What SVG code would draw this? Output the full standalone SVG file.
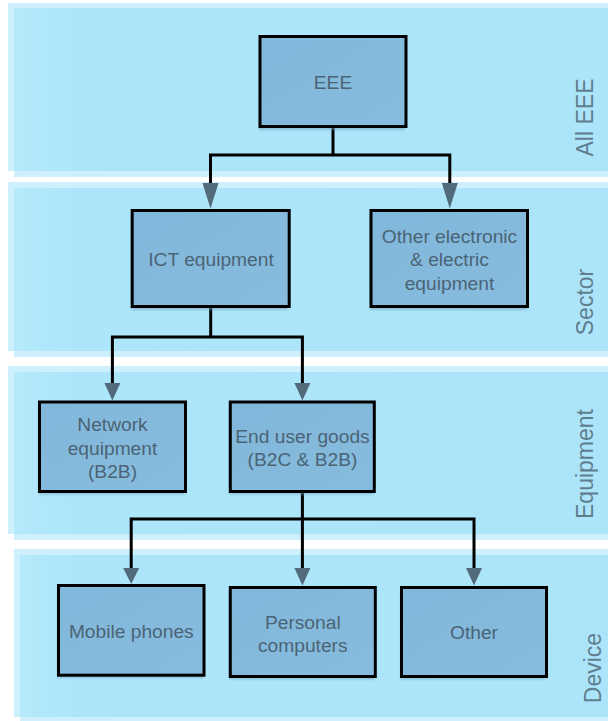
<svg xmlns="http://www.w3.org/2000/svg" width="608" height="721" viewBox="0 0 608 721">
  <defs>
    <linearGradient id="bandFill" x1="0" y1="0" x2="1" y2="0">
      <stop offset="0" stop-color="#b6e9fb"/>
      <stop offset="0.08" stop-color="#ade6fa"/>
      <stop offset="1" stop-color="#ace5fa"/>
    </linearGradient>
    <linearGradient id="boxFill" x1="0" y1="0" x2="1" y2="1">
      <stop offset="0" stop-color="#81b7da"/>
      <stop offset="1" stop-color="#87bcde"/>
    </linearGradient>
    <filter id="soft" x="-10%" y="-10%" width="120%" height="130%">
      <feGaussianBlur stdDeviation="1.2"/>
    </filter>
    <style>
      .glow { fill: #cdf0fc; }
      .band { fill: url(#bandFill); }
      .box { fill: url(#boxFill); stroke: #000; stroke-width: 3; }
      .shadow { fill: #6f9fbd; opacity: 0.55; filter: url(#soft); }
      .txt { font-family: "Liberation Sans", Arial, sans-serif; font-size: 19.2px; fill: #4b6475; text-anchor: middle; }
      .lbl { font-family: "Liberation Sans", Arial, sans-serif; font-size: 23px; fill: #5f7e8f; text-anchor: middle; }
      .wire { fill: none; stroke: #000; stroke-width: 3; stroke-linejoin: miter; stroke-linecap: butt; }
      .head { fill: #516b7b; }
    </style>
  </defs>

  <rect width="608" height="721" fill="#ffffff"/>

  <!-- level bands -->
  <g id="band-all-eee">
    <rect class="glow" x="8" y="3" width="600" height="168"/>
    <rect class="glow" x="14" y="8" width="594" height="169"/>
    <rect class="band" x="14" y="8" width="594" height="163"/>
    <text class="lbl" transform="translate(592.5,117.5) rotate(-90)">All EEE</text>
  </g>
  <g id="band-sector">
    <rect class="glow" x="8" y="182" width="600" height="169"/>
    <rect class="glow" x="14" y="188" width="594" height="169"/>
    <rect class="band" x="14" y="188" width="594" height="163"/>
    <text class="lbl" transform="translate(593,302) rotate(-90)">Sector</text>
  </g>
  <g id="band-equipment">
    <rect class="glow" x="8" y="366" width="600" height="168"/>
    <rect class="glow" x="14" y="372" width="594" height="168"/>
    <rect class="band" x="14" y="372" width="594" height="162"/>
    <text class="lbl" transform="translate(593,464) rotate(-90)">Equipment</text>
  </g>
  <g id="band-device">
    <rect class="glow" x="14" y="549" width="594" height="168"/>
    <rect class="glow" x="20" y="555" width="588" height="166"/>
    <rect class="band" x="20" y="555" width="588" height="162"/>
    <text class="lbl" transform="translate(601,668) rotate(-90)">Device</text>
  </g>

  <!-- connectors -->
  <g id="connectors">
    <path class="wire" d="M333,127 V155 M210.5,184 V155 H449.8 V184"/>
    <polygon class="head" points="202.5,183 218.5,183 210.5,208.5"/>
    <polygon class="head" points="441.8,183 457.8,183 449.8,208.5"/>

    <path class="wire" d="M210.7,307 V337 M112.4,384 V337 H302.4 V384"/>
    <polygon class="head" points="104.4,383 120.4,383 112.4,400.5"/>
    <polygon class="head" points="294.4,383 310.4,383 302.4,400.5"/>

    <path class="wire" d="M302.4,492 V569 M131.2,569 V519 H474 V569"/>
    <polygon class="head" points="123.2,568 139.2,568 131.2,584"/>
    <polygon class="head" points="294.4,568 310.4,568 302.4,585.5"/>
    <polygon class="head" points="466,568 482,568 474,585.5"/>
  </g>

  <!-- nodes -->
  <g id="node-eee">
    <rect class="shadow" x="259" y="39" width="146" height="91"/>
    <rect class="box" x="260" y="36.5" width="146" height="90"/>
    <text class="txt" x="333" y="88.5">EEE</text>
  </g>
  <g id="node-ict">
    <rect class="shadow" x="131" y="213" width="157" height="97"/>
    <rect class="box" x="132.2" y="210.5" width="157" height="96"/>
    <text class="txt" x="211" y="266">ICT equipment</text>
  </g>
  <g id="node-other-eee">
    <rect class="shadow" x="370" y="213" width="156.5" height="97"/>
    <rect class="box" x="371" y="210.5" width="156.5" height="96"/>
    <text class="txt" x="449.5" y="242.5">Other electronic</text>
    <text class="txt" x="449.5" y="266">&amp; electric</text>
    <text class="txt" x="449.5" y="289.5">equipment</text>
  </g>
  <g id="node-network">
    <rect class="shadow" x="38.5" y="404.5" width="146" height="90"/>
    <rect class="box" x="39.5" y="402" width="146" height="89.5"/>
    <text class="txt" x="112.5" y="431">Network</text>
    <text class="txt" x="112.5" y="454.5">equipment</text>
    <text class="txt" x="112.5" y="478">(B2B)</text>
  </g>
  <g id="node-end-user">
    <rect class="shadow" x="229.3" y="404.5" width="144" height="90"/>
    <rect class="box" x="230.3" y="402" width="144" height="89.5"/>
    <text class="txt" x="302.5" y="443">End user goods</text>
    <text class="txt" x="302.5" y="466">(B2C &amp; B2B)</text>
  </g>
  <g id="node-mobile">
    <rect class="shadow" x="57.5" y="588" width="145.5" height="90"/>
    <rect class="box" x="58.5" y="585.5" width="145.5" height="89.7"/>
    <text class="txt" x="131.3" y="637.5">Mobile phones</text>
  </g>
  <g id="node-pc">
    <rect class="shadow" x="229.3" y="590" width="145" height="89.5"/>
    <rect class="box" x="230.3" y="587.5" width="145" height="89"/>
    <text class="txt" x="302.8" y="628.5">Personal</text>
    <text class="txt" x="302.8" y="652">computers</text>
  </g>
  <g id="node-other-device">
    <rect class="shadow" x="400.5" y="590" width="145" height="89.5"/>
    <rect class="box" x="401.5" y="587.5" width="145" height="89"/>
    <text class="txt" x="474" y="638.5">Other</text>
  </g>
</svg>
